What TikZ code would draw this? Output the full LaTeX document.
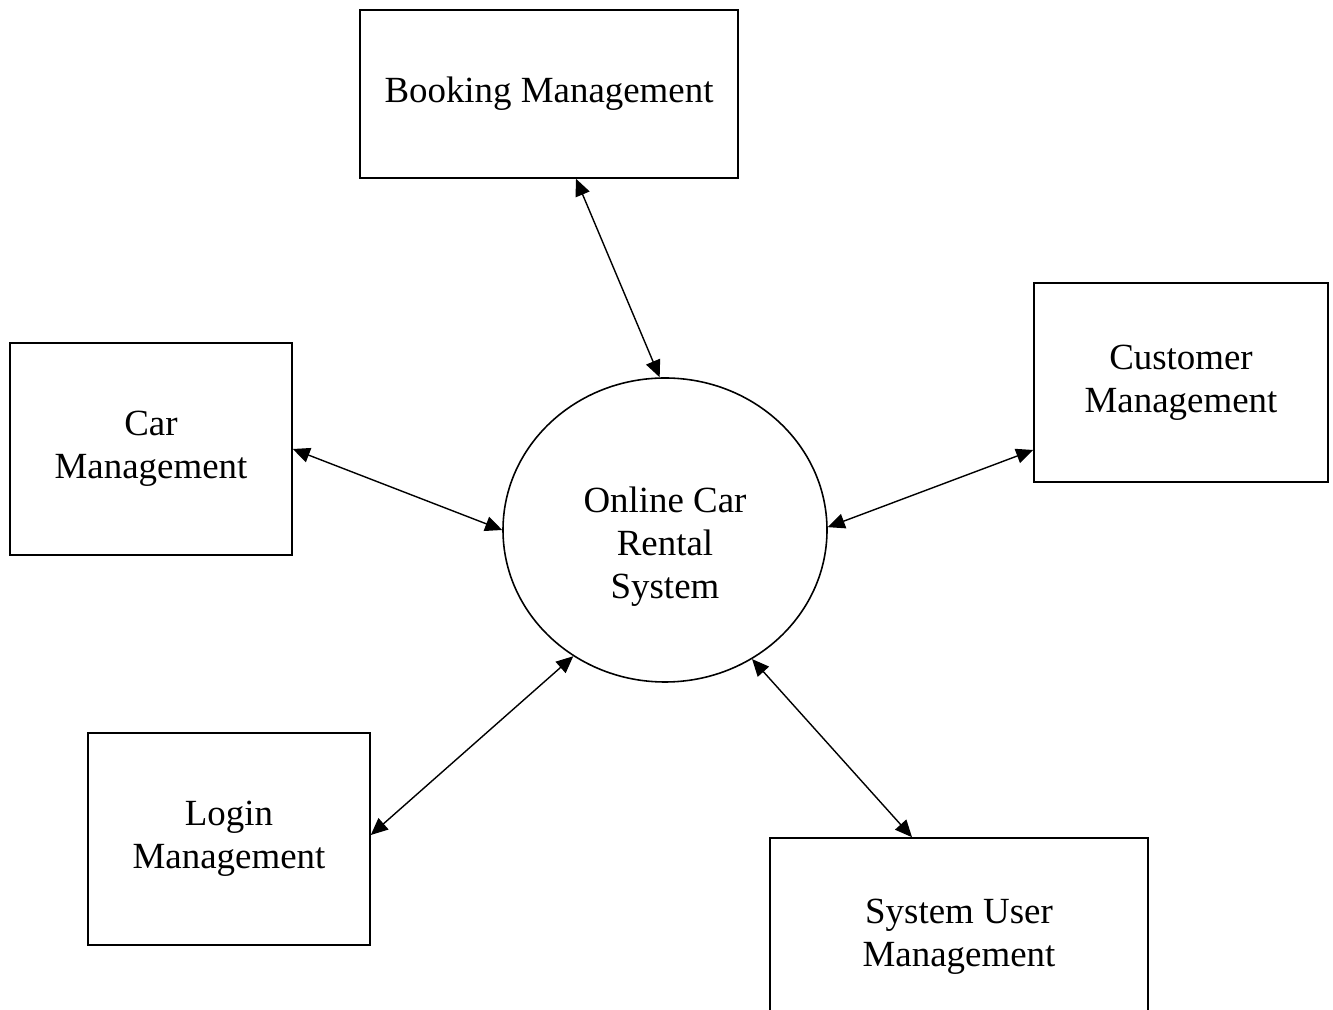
\documentclass[tikz,border=0pt]{standalone}
\usepackage{fontspec}
\setmainfont{Liberation Serif}
\usetikzlibrary{shapes.geometric,arrows.meta,calc}

\begin{document}
\begin{tikzpicture}[
    module/.style={draw,line width=0.9pt,align=center,inner sep=0pt,
        font=\fontsize{21}{24.5}\selectfont},
    caption/.style={align=center,inner sep=0pt,font=\fontsize{21}{24.5}\selectfont},
    flow/.style={{Triangle[length=0.34cm,width=0.3cm]}-{Triangle[length=0.34cm,width=0.3cm]},line width=0.8pt}
]
    \useasboundingbox (0,0) rectangle (26.66,20.2);
    \clip (0,0) rectangle (26.66,20.2);

    % Central process
    \node[draw,line width=0.9pt,ellipse,minimum width=6.48cm,minimum height=6.08cm] (system) at (13.3,9.6) {};
    \node[caption,yshift=-0.34cm] (systemtext) at (system) {Online Car\\Rental\\System};

    % Modules
    \node[module,minimum width=7.56cm,minimum height=3.36cm] (booking) at (10.98,18.32)
        {Booking Management};
    \node[module,minimum width=5.88cm,minimum height=3.98cm] (customer) at (23.62,12.55)
        {Customer\\Management};
    \node[module,minimum width=5.64cm,minimum height=4.24cm] (car) at (3.02,11.22)
        {Car\\Management};
    \node[module,minimum width=5.64cm,minimum height=4.24cm] (login) at (4.58,3.42)
        {Login\\Management};
    \node[module,minimum width=7.56cm,minimum height=3.96cm] (sysuser) at (19.18,1.46)
        {System User\\Management};

    % Data flows
    \draw[flow] ($(booking.south)+(0.54,0)$) -- (system.92.6);
    \draw[flow] (car.east) -- (system.180);
    \draw[flow] ($(customer.west)+(0,-1.35)$) -- (system.1.4);
    \draw[flow] ($(login.east)+(0,0.08)$) -- (system.234.7);
    \draw[flow] ($(sysuser.north)+(-0.94,0)$) -- (system.304.3);
\end{tikzpicture}
\end{document}
